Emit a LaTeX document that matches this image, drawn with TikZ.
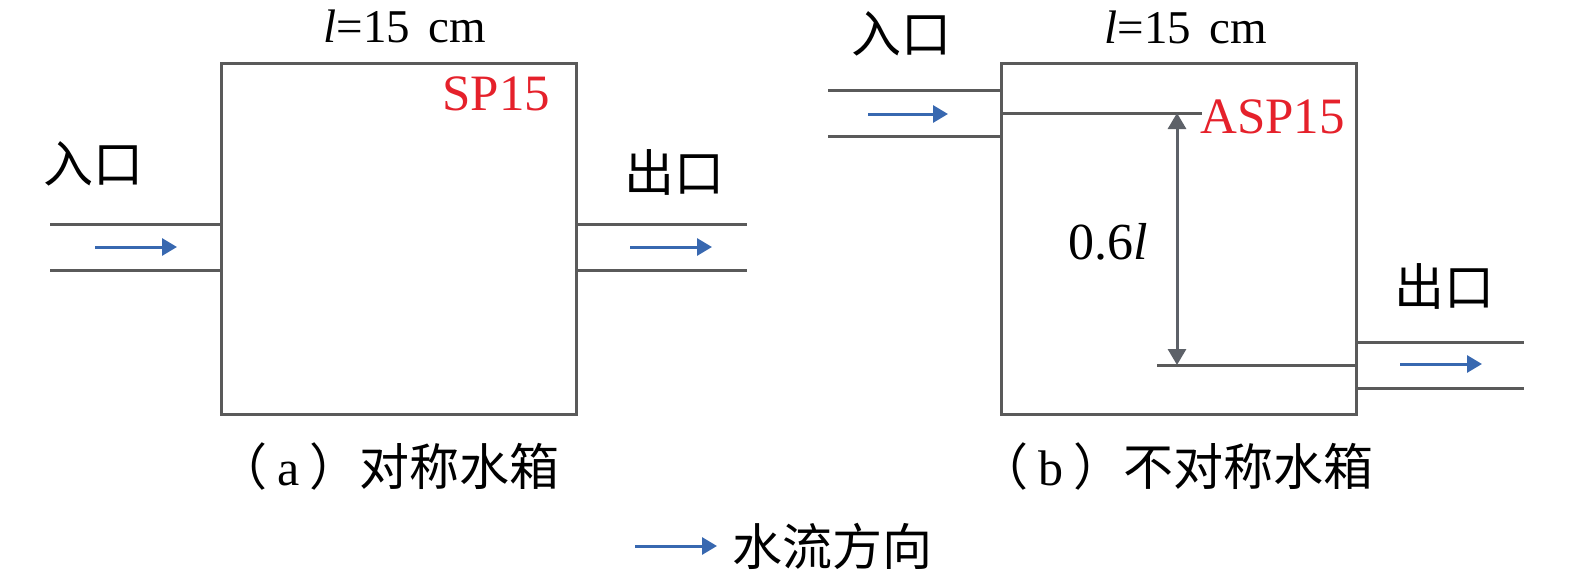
\documentclass[tikz,border=0pt]{standalone}
\usepackage{fontspec}
\setmainfont{Liberation Serif}
\newfontfamily\cjk{Noto Sans CJK SC}
\usetikzlibrary{arrows.meta}
\definecolor{pipegray}{HTML}{5A5A5A}
\definecolor{flowblue}{HTML}{3868B0}
\definecolor{labred}{HTML}{E5212B}
\definecolor{dimgray}{HTML}{5D6168}
\tikzset{
  pipe/.style={draw=pipegray, line width=1.5pt},
  tank/.style={draw=pipegray, line width=1.5pt, minimum width=177.5pt, minimum height=175.5pt, inner sep=0pt},
  flow/.style={draw=flowblue, line width=1.5pt, -{Triangle[length=7.5pt,width=8.5pt]}},
  dimline/.style={draw=dimgray, fill=dimgray, line width=1.5pt, {Triangle[length=8pt,width=9pt]}-{Triangle[length=8pt,width=9pt]}},
  cjklab/.style={font=\cjk\fontsize{25pt}{30pt}\selectfont, inner sep=0pt, text=black},
  titlelab/.style={font=\rmfamily\fontsize{23.5pt}{28pt}\selectfont, inner sep=0pt, anchor=base},
  redlab/.style={font=\rmfamily\fontsize{25.5pt}{30pt}\selectfont, text=labred, inner sep=0pt, anchor=base west},
}
\begin{document}
\begin{tikzpicture}[x=0.5pt,y=-0.5pt]
\useasboundingbox (0,0) rectangle (1575,580);

% ---------- (a) symmetric tank ----------
\node[tank] (boxA) at (399,238.5) {};
\coordinate (aiT) at (50,224);
\coordinate (aiB) at (50,270);
\coordinate (aoT) at (747,224);
\coordinate (aoB) at (747,270);
\draw[pipe] (aiT) -- (aiT -| boxA.west);
\draw[pipe] (aiB) -- (aiB -| boxA.west);
\draw[pipe] (aoT -| boxA.east) -- (aoT);
\draw[pipe] (aoB -| boxA.east) -- (aoB);
\coordinate (fa1s) at (95,247);
\coordinate (fa1e) at (177,247);
\coordinate (fa2s) at (630,247);
\coordinate (fa2e) at (712,247);
\draw[flow] (fa1s) -- (fa1e);
\draw[flow] (fa2s) -- (fa2e);

\node[titlelab] (titleA) at (405,42) {\textit{l}=15\hspace{0.4em}cm};
\node[redlab] (sp) at (442,110) {SP15};
\node[cjklab] (inA) at (93,164) {入口};
\node[cjklab] (outA) at (674,172) {出口};
\node[cjklab, anchor=west] (capA) at (217,466) {（\hspace{0.2em}{\rmfamily a}\hspace{0.2em}）对称水箱};

% ---------- (b) asymmetric tank ----------
\node[tank] (boxB) at (1179,238.5) {};
\coordinate (biT) at (828,90);
\coordinate (biB) at (828,136);
\coordinate (boT) at (1524,342);
\coordinate (boB) at (1524,388);
\draw[pipe] (biT) -- (biT -| boxB.west);
\draw[pipe] (biB) -- (biB -| boxB.west);
\draw[pipe] (boT -| boxB.east) -- (boT);
\draw[pipe] (boB -| boxB.east) -- (boB);
\coordinate (innerTop) at (1202,113);
\coordinate (innerBot) at (1157,365);
\draw[pipe] (innerTop -| boxB.west) -- (innerTop);
\draw[pipe] (innerBot) -- (innerBot -| boxB.east);
\coordinate (dimTop) at (1177,113);
\coordinate (dimBot) at (1177,365);
\draw[dimline] (dimTop) -- (dimBot);
\coordinate (fb1s) at (868,114);
\coordinate (fb1e) at (948,114);
\coordinate (fb2s) at (1400,364);
\coordinate (fb2e) at (1482,364);
\draw[flow] (fb1s) -- (fb1e);
\draw[flow] (fb2s) -- (fb2e);

\node[titlelab] (titleB) at (1186,43) {\textit{l}=15\hspace{0.4em}cm};
\node[redlab] (asp) at (1200,133) {ASP15};
\node[font=\rmfamily\fontsize{26pt}{30pt}\selectfont, inner sep=0pt, anchor=base west] (dimlab) at (1068,259) {0.6\textit{l}};
\node[cjklab] (inB) at (901,34) {入口};
\node[cjklab] (outB) at (1444,286) {出口};
\node[cjklab, anchor=west] (capB) at (978,466) {（\hspace{0.2em}{\rmfamily b}\hspace{0.2em}）不对称水箱};

% ---------- legend ----------
\coordinate (legS) at (635,546);
\coordinate (legE) at (717,546);
\draw[flow] (legS) -- (legE);
\node[cjklab] (legT) at (832,546) {水流方向};
\end{tikzpicture}
\end{document}
